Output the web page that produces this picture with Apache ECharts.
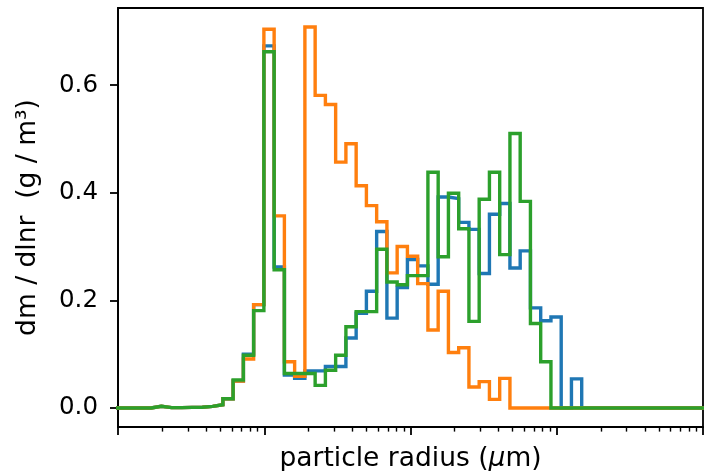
<!DOCTYPE html>
<html>
<head>
<meta charset="utf-8">
<script src="https://cdn.jsdelivr.net/npm/echarts@6.0.0/dist/echarts.min.js"></script>
<style>
html,body{margin:0;padding:0;background:#fff;}
#chart{width:704px;height:471px;}
</style>
</head>
<body>
<div id="chart"></div>
<script>
// Bin grid (log10 of radius in µm): uniform log bins
const logEdgeStart = -2.054;
const logEdgeStep = 0.0701;

// dm/dlnr values per bin (g/m^3)
const seriesBlue = [
  0, 0, 0, 0, 0.003, 0.0006, 0.0006, 0.001, 0.0012, 0.003, 0.006,
  0.017, 0.05, 0.1, 0.192, 0.673, 0.262, 0.061, 0.055, 0.069, 0.069,
  0.077, 0.077, 0.13, 0.176, 0.217, 0.328, 0.167, 0.224, 0.276, 0.264,
  0.23, 0.392, 0.389, 0.345, 0.332, 0.25, 0.36, 0.38, 0.26, 0.292,
  0.186, 0.162, 0.169, 0, 0.054, 0, 0, 0, 0, 0,
  0, 0, 0, 0, 0, 0, 0
];
const seriesOrange = [
  0, 0, 0, 0, 0.003, 0.0006, 0.0006, 0.001, 0.0012, 0.003, 0.006,
  0.017, 0.05, 0.091, 0.192, 0.704, 0.357, 0.086, 0.059, 0.708, 0.581,
  0.564, 0.457, 0.491, 0.413, 0.376, 0.346, 0.251, 0.300, 0.282, 0.231,
  0.145, 0.217, 0.103, 0.112, 0.039, 0.049, 0.016, 0.055, 0, 0,
  0, 0, 0, 0, 0, 0, 0, 0, 0, 0,
  0, 0, 0, 0, 0, 0, 0
];
const seriesGreen = [
  0, 0, 0, 0, 0.003, 0.0006, 0.0006, 0.001, 0.0012, 0.003, 0.006,
  0.017, 0.052, 0.098, 0.181, 0.662, 0.257, 0.064, 0.064, 0.064, 0.042,
  0.070, 0.098, 0.151, 0.179, 0.179, 0.295, 0.234, 0.229, 0.246, 0.246,
  0.438, 0.281, 0.399, 0.333, 0.161, 0.388, 0.438, 0.285, 0.51, 0.384,
  0.157, 0.086, 0, 0, 0, 0, 0, 0, 0, 0,
  0, 0, 0, 0, 0, 0, 0
];

const xMajorTicks = [0.01, 0.1, 1, 10, 100];
const xMinorTicks = [];
[0.01, 0.1, 1, 10].forEach(d => { for (let m = 2; m <= 9; m++) xMinorTicks.push(+(m * d).toPrecision(3)); });
const yTicks = [0, 0.2, 0.4, 0.6];

const colors = ['#1f77b4', '#ff7f0e', '#2ca02c'];
const FONT = 'DejaVu Sans';
const TICK_FS = 24.5;
const NAME_FS = 26.5;

function stepData(vals) {
  const edges = [];
  for (let k = 0; k <= vals.length; k++) edges.push(Math.pow(10, logEdgeStart + k * logEdgeStep));
  const pts = [[edges[0], 0]];
  for (let k = 0; k < vals.length; k++) pts.push([edges[k], vals[k]]);
  pts.push([edges[vals.length], vals[vals.length - 1]]);
  pts.push([edges[vals.length], 0]);
  return pts;
}

const chart = echarts.init(document.getElementById('chart'), null, {renderer: 'canvas'});
const baseX = {
  type: 'log', logBase: 10, min: 0.01, max: 100, position: 'bottom', gridIndex: 0,
  axisLabel: {show: false}, splitLine: {show: false}, minorTick: {show: false}
};
chart.setOption({
  animation: false,
  backgroundColor: '#fff',
  grid: {left: 118, right: 1, top: 8, bottom: 44, show: true, borderColor: '#000', borderWidth: 1.8,
         containLabel: false, outerBoundsMode: 'none'},
  xAxis: [
    Object.assign({}, baseX, {
      axisLine: {show: true, onZero: false, lineStyle: {color: '#000', width: 1.8}},
      axisTick: {show: true, customValues: xMajorTicks, length: 8, lineStyle: {color: '#000', width: 1.8}},
      name: 'particle radius ({i|μ}m)',
      nameLocation: 'middle', nameGap: 19,
      nameTextStyle: {fontFamily: FONT, fontSize: NAME_FS, color: '#000',
        rich: {i: {fontFamily: FONT, fontSize: NAME_FS, fontStyle: 'italic', color: '#000'}}}
    }),
    Object.assign({}, baseX, {
      axisLine: {show: false, onZero: false},
      axisTick: {show: true, customValues: xMinorTicks, length: 4.6, lineStyle: {color: '#000', width: 1.4}}
    })
  ],
  yAxis: {
    type: 'value', min: -0.0354, max: 0.7434,
    axisLine: {show: true, onZero: false, lineStyle: {color: '#000', width: 1.8}},
    axisTick: {show: true, customValues: yTicks, length: 8, lineStyle: {color: '#000', width: 1.8}},
    axisLabel: {customValues: yTicks, formatter: v => v.toFixed(1), fontFamily: FONT, fontSize: TICK_FS, color: '#000', margin: 20},
    splitLine: {show: false},
    name: 'dm / dlnr  (g / m³)', nameLocation: 'middle', nameGap: 76, nameRotate: 90,
    nameTextStyle: {fontFamily: FONT, fontSize: NAME_FS, color: '#000'}
  },
  series: [seriesBlue, seriesOrange, seriesGreen].map((vals, i) => ({
    type: 'line', xAxisIndex: 0, data: stepData(vals), step: 'end', showSymbol: false, symbol: 'none',
    lineStyle: {color: colors[i], width: 3.4, join: 'miter'}, clip: true
  }))
});
</script>
</body>
</html>
